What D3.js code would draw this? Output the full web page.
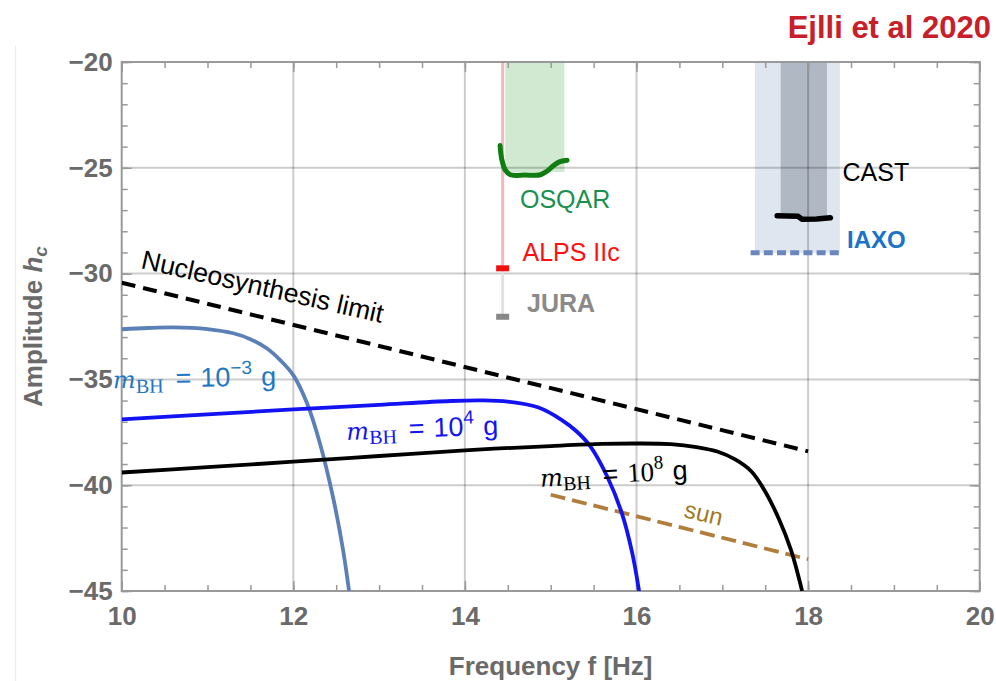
<!DOCTYPE html>
<html>
<head>
<meta charset="utf-8">
<script src="https://cdn.jsdelivr.net/npm/d3@7"></script>
<style>
  html, body { margin: 0; padding: 0; background: #fff; }
  svg { display: block; }
</style>
</head>
<body>
<svg id="chart" width="996" height="681"></svg>
<script>
// ---- data: log10 frequency [Hz] vs log10 characteristic strain h_c ----
const freqTicks = [10, 12, 14, 16, 18, 20];
const ampTicks = [-20, -25, -30, -35, -40, -45];

// PBH graviton spectra for three black-hole masses
const bhMinus3 = [[10, -32.63], [10.3, -32.57], [10.6, -32.54], [11.0, -32.62], [11.3, -32.82],
  [11.5, -33.1], [11.69, -33.53], [11.85, -34.1], [12.0, -34.8], [12.16, -36.13],
  [12.31, -38.02], [12.47, -40.7], [12.58, -43.06], [12.65, -45.0]];
const bh4 = [[10, -36.89], [11, -36.65], [12, -36.42], [13, -36.2], [13.83, -36.02],
  [14.2, -35.99], [14.5, -36.05], [14.85, -36.32], [15.13, -36.92], [15.3, -37.45],
  [15.46, -38.15], [15.66, -39.6], [15.83, -41.33], [15.95, -43.2], [16.03, -45.0]];
const bh8 = [[10, -39.4], [11, -39.15], [12, -38.89], [13, -38.62], [14, -38.35],
  [15, -38.15], [15.6, -38.05], [16, -38.03], [16.4, -38.06], [16.7, -38.2],
  [16.95, -38.42], [17.15, -38.78], [17.34, -39.35], [17.5, -40.3], [17.66, -41.6],
  [17.8, -43.06], [17.93, -45.0]];
const bhMassExponents = ["\u22123", "4", "8"];

// bounds
const nucleosynthesis = [[10, -30.43], [18, -38.4]];
const sunLine = [[15, -40.45], [18, -43.5]];

// experiments
const osqarBand = { f: [14.47, 15.16], h: [-20, -25.2] };
const osqarCurve = [[14.41, -23.95], [14.43, -24.6], [14.47, -25.1], [14.53, -25.33],
  [14.7, -25.34], [14.88, -25.33], [14.96, -25.15], [15.03, -24.9], [15.1, -24.72], [15.19, -24.64]];
const alpsFreq = 14.44;
const alpsLimit = -29.75;
const juraLimit = -32.04;
const castBand = { f: [17.68, 18.22], h: [-20, -27.3] };
const castCurve = [[17.64, -27.27], [17.88, -27.29], [17.93, -27.43], [18.1, -27.42], [18.26, -27.36]];
const iaxoBand = { f: [17.38, 18.37], h: [-20, -29.02] };
const iaxoLine = [[17.33, -29.02], [18.39, -29.02]];

// ---- layout ----
const svg = d3.select("#chart");
const x = d3.scaleLinear().domain([10, 20]).range([121.7, 979.7]);
const y = d3.scaleLinear().domain([-45, -20]).range([591, 62]);
const [X0, X1] = x.range();
const [Y1, Y0] = y.range();
const SANS = "'Liberation Sans', Arial, Helvetica, sans-serif";
const SERIF = "'Liberation Serif', 'Times New Roman', serif";

// faint page border on the left
svg.append("line").attr("x1", 15.5).attr("x2", 15.5).attr("y1", 46).attr("y2", 681)
  .attr("stroke", "#ececec").attr("stroke-width", 1.2);

// title
svg.append("text").attr("x", 991).attr("y", 38).attr("text-anchor", "end")
  .attr("font-family", SANS).attr("font-weight", "bold").attr("font-size", 31)
  .attr("fill", "#c8202a").text("Ejlli et al 2020");

const plot = svg.append("g");

// shaded experimental regions
function band(b, fill) {
  plot.append("rect")
    .attr("x", x(b.f[0])).attr("width", x(b.f[1]) - x(b.f[0]))
    .attr("y", y(b.h[0])).attr("height", y(b.h[1]) - y(b.h[0]))
    .attr("fill", fill);
}
band(osqarBand, "rgba(90,175,90,0.28)");
band(iaxoBand, "rgba(170,188,215,0.38)");
band(castBand, "rgba(120,128,140,0.45)");

// grid lines at major ticks
plot.append("g").selectAll("line").data(freqTicks.slice(1, -1)).join("line")
  .attr("x1", d => x(d)).attr("x2", d => x(d)).attr("y1", Y0).attr("y2", Y1)
  .attr("stroke", "rgba(0,0,0,0.2)").attr("stroke-width", 2);
plot.append("g").selectAll("line").data(ampTicks.slice(1, -1)).join("line")
  .attr("y1", d => y(d)).attr("y2", d => y(d)).attr("x1", X0).attr("x2", X1)
  .attr("stroke", "rgba(0,0,0,0.2)").attr("stroke-width", 2);

// axes: inward ticks on all four sides
const minorF = d3.range(10, 20.001, 0.5);
const minorH = d3.range(-45, -19.999, 1);
function styleAxis(g) {
  g.select(".domain").remove();
  g.selectAll(".tick line").attr("stroke", "#999").attr("stroke-width", 1.5);
  g.selectAll("text").attr("font-family", SANS).attr("font-weight", "bold")
    .attr("font-size", 26).attr("fill", "#6a6a6a");
}
svg.append("g").attr("transform", `translate(0,${Y1})`)
  .call(d3.axisBottom(x).tickValues(minorF).tickSize(-6).tickFormat("")).call(styleAxis);
svg.append("g").attr("transform", `translate(0,${Y0})`)
  .call(d3.axisTop(x).tickValues(minorF).tickSize(-6).tickFormat("")).call(styleAxis);
svg.append("g").attr("transform", `translate(${X0},0)`)
  .call(d3.axisLeft(y).tickValues(minorH).tickSize(-6).tickFormat("")).call(styleAxis);
svg.append("g").attr("transform", `translate(${X1},0)`)
  .call(d3.axisRight(y).tickValues(minorH).tickSize(-6).tickFormat("")).call(styleAxis);

const fmt = d => d3.format("d")(d).replace("-", "\u2212");
svg.append("g").attr("transform", `translate(0,${Y1})`)
  .call(d3.axisBottom(x).tickValues(freqTicks).tickSize(-10).tickPadding(15.5).tickFormat(fmt))
  .call(styleAxis);
svg.append("g").attr("transform", `translate(${X0},0)`)
  .call(d3.axisLeft(y).tickValues(ampTicks).tickSize(-10).tickPadding(9).tickFormat(fmt))
  .call(styleAxis);
svg.append("g").attr("transform", `translate(0,${Y0})`)
  .call(d3.axisTop(x).tickValues(freqTicks).tickSize(-10).tickFormat("")).call(styleAxis);
svg.append("g").attr("transform", `translate(${X1},0)`)
  .call(d3.axisRight(y).tickValues(ampTicks).tickSize(-10).tickFormat("")).call(styleAxis);

// frame
svg.append("rect").attr("x", X0).attr("y", Y0).attr("width", X1 - X0).attr("height", Y1 - Y0)
  .attr("fill", "none").attr("stroke", "#999").attr("stroke-width", 2);

// axis titles
svg.append("text").attr("x", (X0 + X1) / 2).attr("y", 675).attr("text-anchor", "middle")
  .attr("font-family", SANS).attr("font-weight", "bold").attr("font-size", 26).attr("fill", "#6a6a6a")
  .text("Frequency f [Hz]");
const yl = svg.append("text").attr("transform", `translate(42,${(Y0 + Y1) / 2}) rotate(-90)`)
  .attr("text-anchor", "middle").attr("font-family", SANS).attr("font-weight", "bold")
  .attr("font-size", 26).attr("fill", "#6a6a6a");
yl.append("tspan").text("Amplitude ");
yl.append("tspan").attr("font-style", "italic").text("h");
yl.append("tspan").attr("font-style", "italic").attr("font-size", 19).attr("dy", 5).text("c");

// curves
const line = d3.line().x(d => x(d[0])).y(d => y(d[1]));
const smooth = d3.line().x(d => x(d[0])).y(d => y(d[1])).curve(d3.curveCatmullRom.alpha(0.5));
svg.append("clipPath").attr("id", "plotclip").append("rect")
  .attr("x", X0).attr("y", Y0).attr("width", X1 - X0).attr("height", Y1 - Y0);
const curves = svg.append("g").attr("clip-path", "url(#plotclip)");

// ALPS IIc / JURA stems and markers
curves.append("line").attr("x1", x(alpsFreq)).attr("x2", x(alpsFreq))
  .attr("y1", y(-20)).attr("y2", y(alpsLimit))
  .attr("stroke", "rgba(215,90,90,0.42)").attr("stroke-width", 3);
curves.append("line").attr("x1", x(alpsFreq)).attr("x2", x(alpsFreq))
  .attr("y1", y(alpsLimit)).attr("y2", y(juraLimit))
  .attr("stroke", "#e2e2e2").attr("stroke-width", 3);
curves.append("rect").attr("x", x(alpsFreq) - 6.5).attr("y", y(alpsLimit) - 3)
  .attr("width", 13).attr("height", 6).attr("fill", "#f01010");
curves.append("rect").attr("x", x(alpsFreq) - 6.5).attr("y", y(juraLimit) - 3)
  .attr("width", 13).attr("height", 6).attr("fill", "#888");

curves.append("path").datum(osqarCurve).attr("d", smooth)
  .attr("fill", "none").attr("stroke", "#0f7d12").attr("stroke-width", 5).attr("stroke-linecap", "round");
curves.append("path").datum(castCurve).attr("d", line)
  .attr("fill", "none").attr("stroke", "#000").attr("stroke-width", 5.5).attr("stroke-linecap", "round");
curves.append("path").datum(iaxoLine).attr("d", line)
  .attr("fill", "none").attr("stroke", "#6a86bd").attr("stroke-width", 5).attr("stroke-dasharray", "9 4.2");

curves.append("path").datum(nucleosynthesis).attr("d", line)
  .attr("fill", "none").attr("stroke", "#000").attr("stroke-width", 4).attr("stroke-dasharray", "14 8");
curves.append("path").datum(sunLine).attr("d", line)
  .attr("fill", "none").attr("stroke", "#b07d3c").attr("stroke-width", 3.8).attr("stroke-dasharray", "15 7");

curves.append("path").datum(bhMinus3).attr("d", smooth)
  .attr("fill", "none").attr("stroke", "#5b80b8").attr("stroke-width", 3.8);
curves.append("path").datum(bh4).attr("d", smooth)
  .attr("fill", "none").attr("stroke", "#1212f2").attr("stroke-width", 3.8);
curves.append("path").datum(bh8).attr("d", smooth)
  .attr("fill", "none").attr("stroke", "#000").attr("stroke-width", 3.8);

// annotations
function label(txt, px, py, color, opts = {}) {
  return svg.append("text").attr("transform", `translate(${px},${py}) rotate(${opts.rot || 0})`)
    .attr("font-family", SANS).attr("font-size", opts.size || 25)
    .attr("font-weight", opts.bold ? "bold" : "normal")
    .attr("fill", color).text(txt);
}
label("OSQAR", 520, 208, "#1a9050");
label("ALPS IIc", 522.5, 260.5, "#ff1010");
label("JURA", 527, 311.5, "#8a8a8a", { bold: true });
label("CAST", 842.5, 180.5, "#000");
label("IAXO", 847, 247.5, "#1a73c8", { bold: true, size: 24 });
label("Nucleosynthesis limit", 140, 268, "#000", { rot: 12.8, size: 26.5 });
label("sun", 683, 517, "#a07a22", { rot: 13, size: 24 });

// black-hole mass labels:  m_BH = 10^k g
function massLabel(exp, fx, fh, color, rot, numFont) {
  const t = svg.append("text")
    .attr("transform", `translate(${x(fx)},${y(fh)}) rotate(${rot})`)
    .attr("fill", color).attr("font-size", 27);
  t.append("tspan").attr("font-family", "'DejaVu Serif', serif").attr("font-style", "italic")
    .attr("font-size", 24).text("m");
  t.append("tspan").attr("font-family", SERIF).attr("font-size", 20).attr("dy", 5).text("BH");
  t.append("tspan").attr("font-family", SANS).attr("dy", -5).attr("dx", 12).text("=");
  t.append("tspan").attr("font-family", numFont).attr("dx", 9).text("10");
  t.append("tspan").attr("font-family", numFont).attr("font-size", 19).attr("dy", -12).text(exp);
  t.append("tspan").attr("font-family", SANS).attr("dy", 12).attr("dx", 9).text("g");
}
massLabel(bhMassExponents[0], 9.90, -35.42, "#1f78c4", -1, SANS);
massLabel(bhMassExponents[1], 12.62, -37.86, "#1414f0", -2, SANS);
massLabel(bhMassExponents[2], 14.88, -40.07, "#000", -3, SERIF);
</script>
</body>
</html>
